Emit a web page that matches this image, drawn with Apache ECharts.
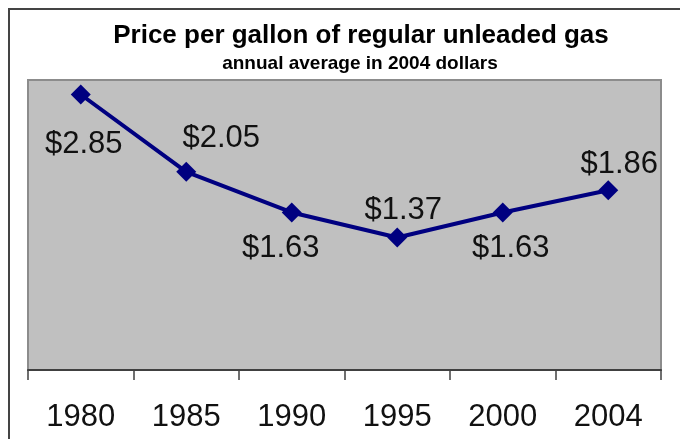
<!DOCTYPE html>
<html>
<head>
<meta charset="utf-8">
<title>Gas price</title>
<script src="https://cdn.jsdelivr.net/npm/echarts@6/dist/echarts.min.js"></script>
<style>
  html, body { margin: 0; padding: 0; background: #fff; }
  #main { width: 680px; height: 439px; }
</style>
</head>
<body>
<div id="main"></div>
<script>
// data
var years = ['1980', '1985', '1990', '1995', '2000', '2004']
var prices = [2.85, 2.05, 1.63, 1.37, 1.63, 1.86]

// where each $ label sits relative to its marker
var labelOffsets = [[3, 50], [35, -33], [-11, 36], [6, -27], [8, 36], [11, -26]]

var font = '"Liberation Sans", Arial, Helvetica, sans-serif'

var chart = echarts.init(document.getElementById('main'))

var option = {
  animation: false,
  title: [
    {
      text: 'Price per gallon of regular unleaded gas',
      left: 361,
      top: 23,
      padding: 0,
      textAlign: 'center',
      textStyle: { fontFamily: font, fontSize: 26, fontWeight: 'bold', color: '#000' }
    },
    {
      text: 'annual average in 2004 dollars',
      left: 360,
      top: 54,
      padding: 0,
      textAlign: 'center',
      textStyle: { fontFamily: font, fontSize: 19, fontWeight: 'bold', color: '#000' }
    }
  ],
  // outer frame (only top and left edges are visible)
  graphic: [
    {
      type: 'rect',
      shape: { x: 9, y: 9, width: 720, height: 480 },
      style: { fill: 'none', stroke: '#444', lineWidth: 2 },
      silent: true
    }
  ],
  grid: {
    left: 28,
    right: 19,
    top: 80,
    bottom: 69,
    show: true,
    backgroundColor: '#c0c0c0',
    borderColor: '#8c8c8c',
    borderWidth: 2
  },
  xAxis: {
    type: 'category',
    data: years,
    boundaryGap: true,
    axisLine: { show: true, lineStyle: { color: '#404040', width: 2 } },
    axisTick: { show: true, alignWithLabel: false, length: 10, lineStyle: { color: '#404040', width: 1.5 } },
    axisLabel: { fontFamily: font, fontSize: 31, color: '#111', margin: 32 }
  },
  yAxis: {
    type: 'value',
    min: 0,
    max: 3,
    show: false,
    splitLine: { show: false }
  },
  series: [
    {
      type: 'line',
      data: prices.map(function (v, i) {
        return { value: v, label: { offset: labelOffsets[i] } }
      }),
      symbol: 'diamond',
      symbolSize: 20,
      lineStyle: { color: '#000080', width: 4 },
      itemStyle: { color: '#000080' },
      label: {
        show: true,
        position: 'inside',
        fontFamily: font,
        fontSize: 31,
        color: '#111',
        formatter: function (p) { return '$' + p.value.toFixed(2) }
      }
    }
  ]
}

chart.setOption(option)
</script>
</body>
</html>
